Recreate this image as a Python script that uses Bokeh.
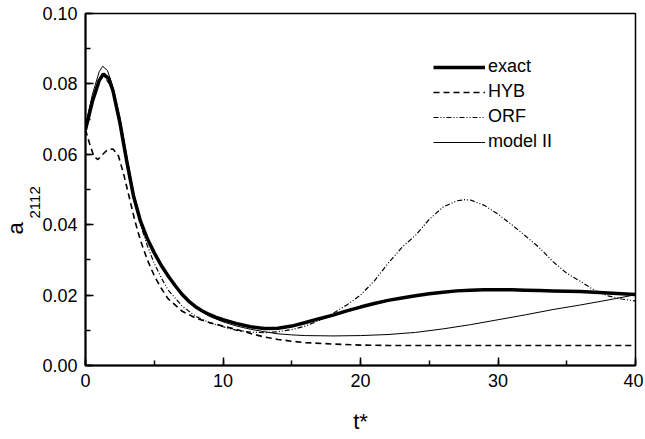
from bokeh.plotting import figure
from bokeh.models import SingleIntervalTicker, NumeralTickFormatter, Range1d, Title
from bokeh.embed import file_html
from bokeh.resources import INLINE

# ---- data ----
t_exact = [0, 0.5, 1.0, 1.3, 1.7, 2.0, 2.5, 3.0, 3.5, 4.0, 4.5, 5.0, 5.5, 6.0, 6.5, 7.0, 7.5, 8.0,
           8.5, 9.0, 9.5, 10, 11, 12, 13, 14, 15, 16, 17, 18, 19, 20, 21, 22, 23, 24, 25, 26, 27,
           28, 29, 30, 31, 32, 33, 34, 35, 36, 37, 38, 39, 40]
a_exact = [0.067, 0.075, 0.081, 0.0828, 0.0815, 0.078, 0.069, 0.058, 0.048, 0.041, 0.036, 0.032,
           0.0285, 0.0255, 0.0228, 0.0203, 0.0183, 0.0167, 0.0155, 0.0145, 0.0137, 0.0130, 0.0119,
           0.0110, 0.0105, 0.0106, 0.0112, 0.0122, 0.0133, 0.0143, 0.0155, 0.0166, 0.0176, 0.0185,
           0.0192, 0.0198, 0.0204, 0.0208, 0.0212, 0.0214, 0.0215, 0.0215, 0.0215, 0.0214, 0.0213,
           0.0212, 0.0211, 0.0210, 0.0208, 0.0206, 0.0204, 0.0202]

t_hyb = [0, 0.3, 0.6, 0.9, 1.2, 1.6, 2.0, 2.4, 2.8, 3.2, 3.6, 4.0, 4.5, 5.0, 5.5, 6.0, 7.0, 8.0,
         9.0, 10, 11, 12, 13, 14, 15, 16, 18, 20, 22, 25, 30, 35, 40]
a_hyb = [0.067, 0.063, 0.0595, 0.0585, 0.0598, 0.0613, 0.0615, 0.0595, 0.054, 0.0475, 0.041,
         0.0355, 0.030, 0.0255, 0.022, 0.019, 0.0155, 0.0135, 0.0122, 0.0112, 0.0102, 0.0091,
         0.0081, 0.0074, 0.0069, 0.0065, 0.0061, 0.0058, 0.0057, 0.0057, 0.0057, 0.0057, 0.0057]

t_orf = [0, 0.5, 1.0, 1.3, 2.0, 2.5, 3.0, 3.5, 4.0, 4.5, 5.0, 5.5, 6.0, 7.0, 8.0, 9.0, 10, 11, 12,
         13, 14, 15, 16, 17, 18, 19, 20, 21, 22, 23, 24, 25, 26, 27, 27.6, 28, 29, 30, 31, 32, 33,
         34, 35, 36, 37, 38, 39, 40]
a_orf = [0.067, 0.075, 0.081, 0.0828, 0.078, 0.069, 0.0575, 0.0475, 0.040, 0.034, 0.029, 0.025,
         0.0215, 0.017, 0.014, 0.0122, 0.0110, 0.0100, 0.0095, 0.0093, 0.0096, 0.0102, 0.0112,
         0.0128, 0.0148, 0.0172, 0.0200, 0.0240, 0.0290, 0.0335, 0.0370, 0.0415, 0.0450, 0.0468,
         0.0471, 0.0470, 0.0455, 0.0430, 0.0400, 0.0368, 0.0335, 0.0295, 0.0262, 0.0239, 0.0214,
         0.0198, 0.0189, 0.0183]

t_m2 = [0, 0.5, 1.0, 1.25, 1.6, 2.0, 2.5, 3.0, 3.5, 4.0, 4.5, 5.0, 6.0, 7.0, 8.0, 9.0, 10, 11, 12,
        13, 14, 15, 16, 18, 20, 22, 24, 26, 28, 30, 32, 34, 36, 38, 40]
a_m2 = [0.068, 0.077, 0.0835, 0.085, 0.0838, 0.079, 0.0705, 0.0595, 0.049, 0.0415, 0.0362, 0.032,
        0.0253, 0.0200, 0.0164, 0.0140, 0.0124, 0.0112, 0.0103, 0.0096, 0.0090, 0.0087, 0.0085,
        0.0084, 0.0085, 0.0088, 0.0094, 0.0104, 0.0116, 0.0130, 0.0144, 0.0159, 0.0172, 0.0186,
        0.0201]

labels = ["exact", "HYB", "ORF", "model II"]
y_label_main = "a"
y_label_sub = "2112"
x_label = "t*"

FONT = "Liberation Sans"

p = figure(width=643, height=436, output_backend="svg", toolbar_location=None,
           x_range=Range1d(0, 40), y_range=Range1d(0, 0.10),
           min_border_left=85, min_border_right=8, min_border_top=13, min_border_bottom=68)
p.background_fill_color = "white"
p.border_fill_color = "white"
p.grid.visible = False
p.outline_line_color = "black"
p.outline_line_width = 1.5

p.line(t_exact, a_exact, line_color="black", line_width=3.5, legend_label=labels[0])
p.line(t_hyb, a_hyb, line_color="black", line_width=1.6, line_dash="6 4", legend_label=labels[1])
p.line(t_orf, a_orf, line_color="black", line_width=1.2, line_dash="5 2 1 2 1 2", legend_label=labels[2])
p.line(t_m2, a_m2, line_color="black", line_width=1.0, legend_label=labels[3])

for ax in (p.xaxis[0], p.yaxis[0]):
    ax.axis_line_width = 2
    ax.axis_line_color = "black"
    ax.major_tick_in = 8
    ax.major_tick_out = 0
    ax.minor_tick_in = 5
    ax.minor_tick_out = 0
    ax.major_tick_line_width = 1.5
    ax.minor_tick_line_width = 1.5
    ax.major_tick_line_color = "black"
    ax.minor_tick_line_color = "black"
    ax.major_label_text_font = FONT
    ax.major_label_text_font_size = "18px"
    ax.major_label_text_color = "black"
    ax.axis_label_text_font = FONT
    ax.axis_label_text_font_style = "normal"
    ax.axis_label_text_color = "black"
    ax.major_label_standoff = 8

p.xaxis[0].ticker = SingleIntervalTicker(interval=10, num_minor_ticks=2)
p.yaxis[0].ticker = SingleIntervalTicker(interval=0.02, num_minor_ticks=2)
p.yaxis[0].formatter = NumeralTickFormatter(format="0.00")
p.yaxis[0].axis_label_standoff = 0

p.xaxis[0].axis_label = x_label
p.xaxis[0].axis_label_text_font_size = "22px"
p.xaxis[0].axis_label_standoff = 19

# y-axis label "a" with subscript "2112": two vertical titles in the left panel
sub_title = Title(text=y_label_sub, align="left", offset=147, standoff=0,
                  text_font=FONT, text_font_size="15px", text_font_style="normal",
                  text_color="black")
main_title = Title(text=y_label_main, align="left", offset=131, standoff=0,
                   text_font=FONT, text_font_size="22px", text_font_style="normal",
                   text_color="black")
p.add_layout(sub_title, "left")
p.add_layout(main_title, "left")

lg = p.legend[0]
lg.location = (348, 213)
lg.border_line_color = None
lg.background_fill_alpha = 0
lg.padding = 0
lg.margin = 0
lg.spacing = 4
lg.glyph_width = 52
lg.glyph_height = 20
lg.label_standoff = 3
lg.label_text_font = FONT
lg.label_text_font_size = "18px"
lg.label_text_color = "black"

open("out.html", "w").write(file_html(p, INLINE))
